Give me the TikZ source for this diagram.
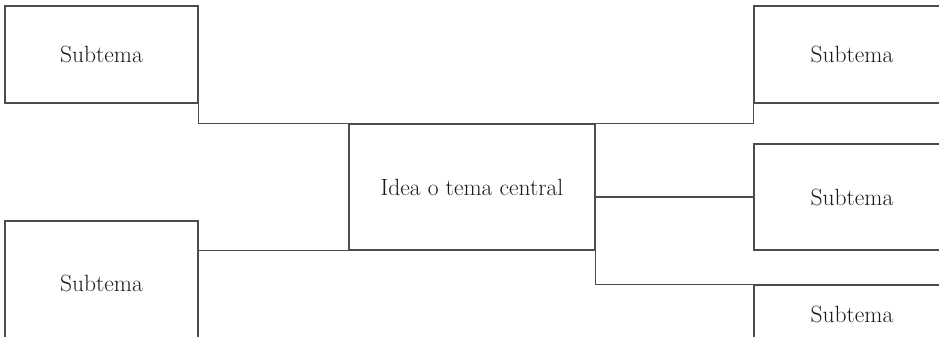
\documentclass[tikz,border=0pt]{standalone}
\usepackage{tikz}
\usetikzlibrary{positioning}

\begin{document}
\begin{tikzpicture}[x=1pt,y=1pt]
\tikzstyle{box} = [draw=black!70, line width=1.2pt, rectangle, inner sep=0pt,
  text=black!90, font=\fontsize{23.5}{28}\selectfont]
\tikzstyle{edge} = [draw=black!70, line width=1.2pt]

\useasboundingbox (0,0) rectangle (939,337);
\clip (0,0) rectangle (939,337);

\node[box, minimum width=246, minimum height=126] (central) at (472,150) {Idea o tema central};
\node[box, minimum width=193, minimum height=97] (s1) at (101.5,282.5) {Subtema};
\node[box, minimum width=193, minimum height=124] (s2) at (101.5,54) {Subtema};
\node[box, minimum width=196, minimum height=97] (s3) at (852,282.5) {Subtema};
\node[box, minimum width=196, minimum height=106] (s4) at (852,140) {Subtema};
\node[box, minimum width=196, minimum height=58] (s5) at (852,23) {Subtema};

\draw[edge] (s1.south east) |- (central.north west);
\draw[edge] (s2.north east) |- (central.south west);
\draw[edge] (central.north east) -| (s3.south west);
\draw[edge] (s4.west -| central.east) -- (s4.west);
\draw[edge] (central.south east) |- (s5.north west);
\end{tikzpicture}
\end{document}
